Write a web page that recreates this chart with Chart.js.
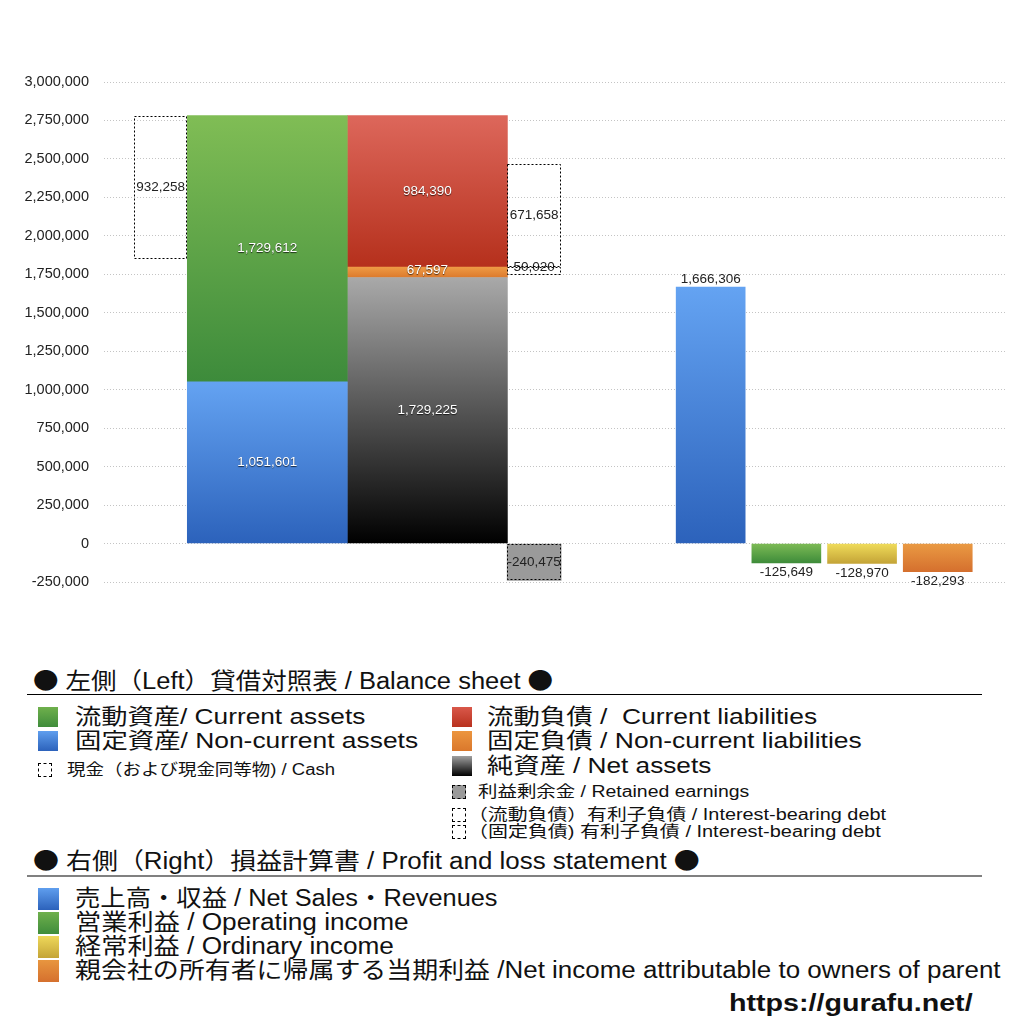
<!DOCTYPE html>
<html>
<head>
<meta charset="utf-8">
<script src="https://cdn.jsdelivr.net/npm/chart.js@4.4.1/dist/chart.umd.min.js"></script>
<style>
  body { margin: 0; background: #fff; font-family: "Liberation Sans", "Noto Sans CJK JP", sans-serif; color: #111; }
  #wrap { position: relative; width: 1024px; height: 1024px; overflow: hidden; }
  #bs { position: absolute; left: 0; top: 0; }
  .t { position: absolute; white-space: nowrap; line-height: 1; transform-origin: 0 50%; }
  .b { font-family: "Noto Sans CJK JP", sans-serif; }
  .sw { position: absolute; width: 20px; height: 20px; }
  .dot { position: absolute; width: 14px; height: 14px; border: 1px dashed #000; box-sizing: border-box; }
  .hr { position: absolute; left: 27px; width: 955px; height: 0; }
</style>
</head>
<body>
<div id="wrap">
  <canvas id="bs" width="1024" height="650"></canvas>

  <div class="t" style="left:33px;top:668px;font-size:23px" data-w="520"><span class="b">●</span> 左側（Left）貸借対照表 / Balance sheet <span class="b">●</span></div>
  <div class="hr" style="top:694px;border-top:1px solid #000"></div>

  <div class="sw" style="left:38px;top:707px;background:linear-gradient(#6fb04c,#3f8c3b)"></div>
  <div class="t" style="left:75px;top:706px;font-size:22px" data-w="290">流動資産/ Current assets</div>
  <div class="sw" style="left:38px;top:731px;background:linear-gradient(#5f9eee,#2c62bb)"></div>
  <div class="t" style="left:75px;top:730px;font-size:22px" data-w="343">固定資産/ Non-current assets</div>
  <div class="dot" style="left:38px;top:763px"></div>
  <div class="t" style="left:67px;top:762px;font-size:16px" data-w="268">現金（および現金同等物) / Cash</div>

  <div class="sw" style="left:452px;top:707px;background:linear-gradient(#d9584a,#b8311e)"></div>
  <div class="t" style="left:487px;top:706px;font-size:22px" data-w="330">流動負債 /&nbsp; Current liabilities</div>
  <div class="sw" style="left:452px;top:731px;background:linear-gradient(#ec963f,#da782c)"></div>
  <div class="t" style="left:487px;top:730px;font-size:22px" data-w="375">固定負債 / Non-current liabilities</div>
  <div class="sw" style="left:452px;top:756px;background:linear-gradient(#a0a0a0,#000)"></div>
  <div class="t" style="left:487px;top:755px;font-size:22px" data-w="224">純資産 / Net assets</div>
  <div class="dot" style="left:452px;top:785px;background:#999"></div>
  <div class="t" style="left:478px;top:784px;font-size:16px" data-w="271">利益剰余金 / Retained earnings</div>
  <div class="dot" style="left:452px;top:808px"></div>
  <div class="t" style="left:468px;top:807px;font-size:16px" data-w="418">（流動負債）有利子負債 / Interest-bearing debt</div>
  <div class="dot" style="left:452px;top:825px"></div>
  <div class="t" style="left:468px;top:824px;font-size:16px" data-w="413">（固定負債) 有利子負債 / Interest-bearing debt</div>

  <div class="t" style="left:33px;top:848px;font-size:23px" data-w="667"><span class="b">●</span> 右側（Right）損益計算書 / Profit and loss statement <span class="b">●</span></div>
  <div class="hr" style="top:875px;border-top:2px solid #808080"></div>

  <div class="sw" style="left:38px;top:888px;width:21px;height:22px;background:linear-gradient(#5f9eee,#2c62bb)"></div>
  <div class="t" style="left:75px;top:887px;font-size:23px" data-w="422">売上高・収益 / Net Sales・Revenues</div>
  <div class="sw" style="left:38px;top:912px;width:21px;height:22px;background:linear-gradient(#6fb04c,#3f8c3b)"></div>
  <div class="t" style="left:75px;top:911px;font-size:23px" data-w="334">営業利益 / Operating income</div>
  <div class="sw" style="left:38px;top:936px;width:21px;height:22px;background:linear-gradient(#eed85a,#c4a437)"></div>
  <div class="t" style="left:75px;top:935px;font-size:23px" data-w="319">経常利益 / Ordinary income</div>
  <div class="sw" style="left:38px;top:960px;width:21px;height:22px;background:linear-gradient(#e8963f,#d5702e)"></div>
  <div class="t" style="left:75px;top:959px;font-size:23px" data-w="926">親会社の所有者に帰属する当期利益 /Net income attributable to owners of parent</div>

  <div class="t" style="left:729px;top:992px;font-size:23px;font-weight:bold" data-w="243">https://gurafu.net/</div>
</div>

<script>
// balance sheet (left) and P&L (right) values
const assetLabels = ['固定資産', '流動資産'];
const assetValues = [1051601, 1729612];
const equityLabels = ['純資産', '固定負債', '流動負債'];
const equityValues = [1729225, 67597, 984390];
const cashValues = [932258];
const debtLabels = ['（固定負債）有利子負債', '（流動負債）有利子負債'];
const debtValues = [50020, 671658];
const retainedValues = [-240475];
const plLabels = ['売上高・収益', '営業利益', '経常利益', '親会社の所有者に帰属する当期利益'];
const plValues = [1666306, -125649, -128970, -182293];

// category slots along the x axis (empty ones are spacing)
const bsSlots = ['', '現金', '', '資産', '', '', '負債・純資産', '', '有利子負債', '', '', '', '', '', '', '', '', ''];
const plSlots = ['', '', '', '', '', '', '', ''].concat(plLabels, ['']);

const yMin = -250000, yMax = 3000000, yStep = 250000;

const plColors = [
  ['#64a3f2', '#2c62bb'],
  ['#7dbb55', '#3e8c3a'],
  ['#f0dc5a', '#c4a437'],
  ['#ea9a43', '#d5702e']
];

function at(slots, name, value) {
  return slots.map(s => (s === name ? value : null));
}

function grad(top, bottom) {
  return (c) => {
    const chart = c.chart;
    if (!chart.chartArea || c.raw == null) return bottom;
    const r = Array.isArray(c.raw) ? c.raw : [0, c.raw];
    const ys = chart.scales.y;
    const g = chart.ctx.createLinearGradient(0, ys.getPixelForValue(Math.max(r[0], r[1])), 0, ys.getPixelForValue(Math.min(r[0], r[1])));
    g.addColorStop(0, top);
    g.addColorStop(1, bottom);
    return g;
  };
}

// nudge the slot spacing of a hidden category axis
function spread(start, range) {
  return (scale) => {
    scale._startValue = start;
    scale._valueRange = range;
  };
}

const totalAssets = assetValues[0] + assetValues[1];
const eq1 = equityValues[0];
const eq2 = eq1 + equityValues[1];
const eq3 = eq2 + equityValues[2];

const barLabels = {
  id: 'barLabels',
  afterDatasetsDraw(chart) {
    const { ctx } = chart;
    chart.data.datasets.forEach((ds, i) => {
      const meta = chart.getDatasetMeta(i);
      meta.data.forEach((bar, j) => {
        const raw = ds.data[j];
        if (raw == null) return;
        const r = Array.isArray(raw) ? raw : [0, raw];
        const value = r[1] - r[0];
        const { x, y, base, width } = bar.getProps(['x', 'y', 'base', 'width'], true);
        const top = Math.min(y, base), bottom = Math.max(y, base);
        ctx.save();
        if (ds.dashed) {
          ctx.setLineDash([2, 2]);
          ctx.strokeStyle = '#000';
          ctx.lineWidth = 1;
          ctx.strokeRect(Math.round(x - width / 2) + 0.5, Math.round(top) + 0.5, Math.round(width) - 1, Math.round(bottom - top) - 1);
          ctx.setLineDash([]);
        }
        const text = value.toLocaleString('en-US');
        ctx.font = '13.5px "Liberation Sans", sans-serif';
        ctx.textAlign = 'center';
        if (ds.tag === 'light') {
          ctx.fillStyle = '#fff';
          ctx.shadowColor = 'rgba(0,0,0,0.7)';
          ctx.shadowOffsetY = 1;
          ctx.shadowBlur = 1;
          ctx.textBaseline = 'middle';
          ctx.fillText(text, x, (top + bottom) / 2 + (ds.shiftY || 0));
        } else if (ds.tag === 'dark') {
          ctx.fillStyle = '#222';
          ctx.textBaseline = 'middle';
          ctx.fillText(text, x, (top + bottom) / 2 + (ds.shiftY || 0));
        } else {
          ctx.fillStyle = '#222';
          if (value >= 0) {
            ctx.textBaseline = 'bottom';
            ctx.fillText(text, x, top - 1);
          } else {
            ctx.textBaseline = 'top';
            ctx.fillText(text, x, bottom + 3);
          }
        }
        ctx.restore();
      });
    });
  }
};

const common = { grouped: false, borderWidth: 0, xAxisID: 'x' };

new Chart(document.getElementById('bs').getContext('2d'), {
  type: 'bar',
  data: {
    labels: bsSlots,
    datasets: [
      { ...common, label: '現金', data: at(bsSlots, '現金', [totalAssets - cashValues[0], totalAssets]), backgroundColor: 'rgba(255,255,255,0)', barThickness: 53, dashed: true, tag: 'dark' },
      { ...common, label: assetLabels[0], data: at(bsSlots, '資産', [0, assetValues[0]]), backgroundColor: grad('#64a3f2', '#2c62bb'), barThickness: 160, tag: 'light' },
      { ...common, label: assetLabels[1], data: at(bsSlots, '資産', [assetValues[0], totalAssets]), backgroundColor: grad('#80bd55', '#3d8b3b'), barThickness: 160, tag: 'light' },
      { ...common, label: equityLabels[0], data: at(bsSlots, '負債・純資産', [0, eq1]), backgroundColor: grad('#a9a9a9', '#000000'), barThickness: 160, tag: 'light' },
      { ...common, label: equityLabels[1], data: at(bsSlots, '負債・純資産', [eq1, eq2]), backgroundColor: grad('#ee9a45', '#dc7a2c'), barThickness: 160, tag: 'light', shiftY: -2 },
      { ...common, label: equityLabels[2], data: at(bsSlots, '負債・純資産', [eq2, eq3]), backgroundColor: grad('#dd675b', '#b5301c'), barThickness: 160, tag: 'light' },
      { ...common, label: debtLabels[0], data: at(bsSlots, '有利子負債', [eq2 - debtValues[0], eq2]), backgroundColor: 'rgba(255,255,255,0)', barThickness: 54, dashed: true, tag: 'dark', shiftY: -4 },
      { ...common, label: debtLabels[1], data: at(bsSlots, '有利子負債', [eq2, eq2 + debtValues[1]]), backgroundColor: 'rgba(255,255,255,0)', barThickness: 54, dashed: true, tag: 'dark' },
      { ...common, label: '利益剰余金', data: at(bsSlots, '有利子負債', [0, retainedValues[0]]), backgroundColor: '#9a9a9a', barThickness: 54, dashed: true, tag: 'dark' },
      {
        grouped: false, borderWidth: 0, xAxisID: 'xr', label: '損益計算書',
        data: plSlots.map(s => { const k = plLabels.indexOf(s); return k < 0 ? null : plValues[k]; }),
        backgroundColor: (c) => {
          const k = plLabels.indexOf(plSlots[c.dataIndex]);
          const pair = plColors[k < 0 ? 0 : k];
          return grad(pair[0], pair[1])(c);
        },
        barThickness: 69, tag: 'out'
      }
    ]
  },
  options: {
    responsive: false,
    animation: false,
    layout: { padding: { left: 20, right: 17, top: 82, bottom: 68 } },
    plugins: { legend: { display: false }, tooltip: { enabled: false } },
    scales: {
      x: { type: 'category', labels: bsSlots, offset: false, display: false, afterBuildTicks: spread(-0.06, 16.92) },
      xr: { type: 'category', labels: plSlots, offset: false, display: false, afterBuildTicks: spread(-0.015, 11.93) },
      y: {
        min: yMin, max: yMax,
        afterFit(scale) { scale.width = 84; },
        ticks: {
          stepSize: yStep, padding: 15, color: '#222',
          font: { family: '"Liberation Sans", sans-serif', size: 14.5 },
          callback: (v) => v.toLocaleString('en-US')
        },
        grid: { color: '#c4c4c4', drawTicks: false, lineWidth: 1 },
        border: { display: false, dash: [1, 2] }
      }
    }
  },
  plugins: [barLabels]
});

// fit legend lines to the widths they take in the original
document.querySelectorAll('.t[data-w]').forEach(el => {
  const w = el.offsetWidth;
  if (w > 0) el.style.transform = 'scaleX(' + (Number(el.dataset.w) / w) + ')';
});
</script>
</body>
</html>
